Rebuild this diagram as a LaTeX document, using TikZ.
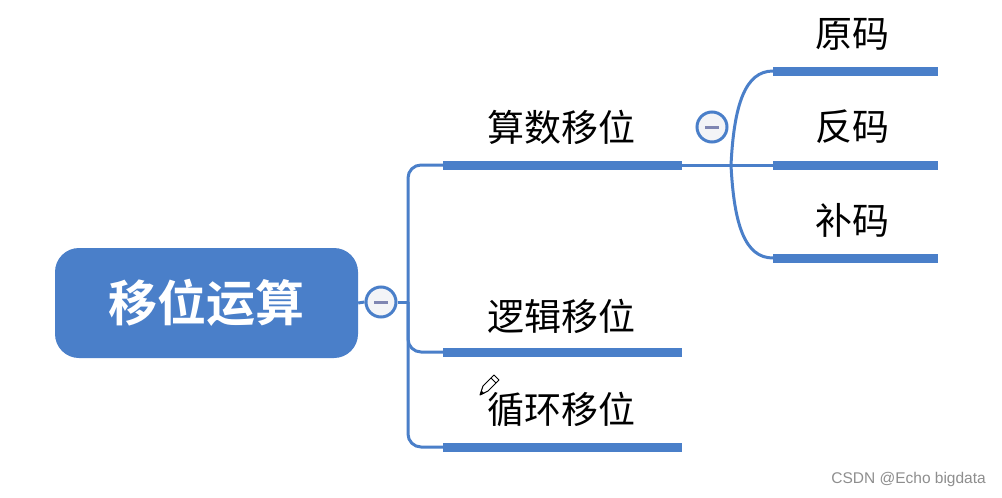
\documentclass[tikz,border=0pt]{standalone}
\usepackage{fontspec}
\newfontfamily\cjk{Noto Sans CJK SC}
\newfontfamily\cjkb{Noto Sans CJK SC Bold}
\setsansfont{Liberation Sans}
\definecolor{mblue}{HTML}{4A7FC9}
\definecolor{mminus}{HTML}{7F86B2}
\definecolor{mgray}{HTML}{F3F4F7}
\definecolor{wm}{HTML}{8E8E8E}
\begin{document}
\begin{tikzpicture}[x=1pt,y=-1pt,
  thin line/.style={draw=mblue,line width=3pt},
  bar/.style={draw=mblue,line width=9pt},
  label/.style={font=\cjk\fontsize{37}{40}\selectfont,text=black,inner sep=0pt,anchor=center},
  toggle/.style={circle,draw=mblue,line width=3pt,fill=mgray,minimum size=30pt,inner sep=0pt}]
\useasboundingbox (0,0) rectangle (1002,498);
\fill[white] (0,0) rectangle (1002,498);
% root
\node[fill=mblue,rounded corners=24pt,minimum width=303pt,minimum height=110pt,inner sep=0pt,
  text=white,font=\cjkb\fontsize{49}{52}\selectfont] (root) at (206.5,303) {移位运算};
% toggle 1
\node[toggle] (t1) at (381,302) {};
\draw[mminus,line width=3pt] ([xshift=-7pt]t1.center) -- ([xshift=7pt]t1.center);
\draw[thin line] (root.east) -- (t1.west);
\coordinate (j1) at (408,302);
\draw[thin line] (t1.east) -- (j1);
% level-1 bars
\coordinate (a1) at (443,165); \coordinate (a2) at (682,165);
\coordinate (b1) at (443,352); \coordinate (b2) at (682,352);
\coordinate (c1) at (443,447); \coordinate (c2) at (682,447);
\draw[thin line,rounded corners=13pt] (a1) -| (j1) |- (c1);
\draw[thin line,rounded corners=13pt] (j1) |- (b1);
\draw[bar] (a1) -- (a2);
\draw[bar] (b1) -- (b2);
\draw[bar] (c1) -- (c2);
\node[label] (la) at (561,127) {算数移位};
\node[label] (lb) at (561,316) {逻辑移位};
\node[label] (lc) at (561,409) {循环移位};
% level 2
\coordinate (j2) at (731,165);
\draw[thin line] (a2) -- (j2);
\coordinate (d1) at (773,71); \coordinate (d2) at (938,71);
\coordinate (e1) at (773,165); \coordinate (e2) at (938,165);
\coordinate (f1) at (773,258); \coordinate (f2) at (938,258);
\draw[thin line] (j2) .. controls (734,105) and (745,71) .. (d1);
\draw[thin line] (j2) -- (e1);
\draw[thin line] (j2) .. controls (734,225) and (745,258) .. (f1);
\draw[bar] (d1) -- (d2);
\draw[bar] (e1) -- (e2);
\draw[bar] (f1) -- (f2);
\node[toggle] (t2) at (712,127) {};
\draw[mminus,line width=3pt] ([xshift=-7pt]t2.center) -- ([xshift=7pt]t2.center);
\node[label] (ld) at (852,34) {原码};
\node[label] (le) at (852,127) {反码};
\node[label] (lf) at (852,220) {补码};
% pencil cursor (tip lower left, body up-right)
\draw[line width=1pt,fill=white,line join=round]
  (480,395) -- (483,386) -- (494,375) -- (499,380) -- (488,391) -- cycle;
\draw[line width=1pt] (491,378) -- (496,383);
\fill (480,395) -- (481.5,390.5) -- (484.5,393.5) -- cycle;
% watermark
\node[font=\sffamily\fontsize{15.5}{17}\selectfont,text=wm,inner sep=0pt,anchor=east] (wm) at (986,479) {CSDN @Echo bigdata};
\end{tikzpicture}
\end{document}
